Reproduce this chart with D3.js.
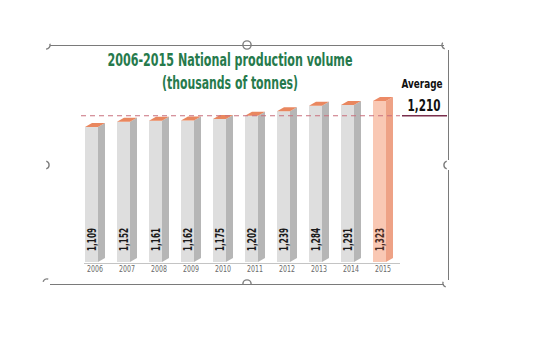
<!DOCTYPE html>
<html>
<head>
<meta charset="utf-8">
<script src="https://cdn.jsdelivr.net/npm/d3@7"></script>
<style>
    html, body { margin: 0; padding: 0; background: #fff; }
    svg { display: block; }
</style>
</head>
<body>
<div id="chart"></div>
<script>
// production volume, thousands of tonnes
var years = ["2006", "2007", "2008", "2009", "2010", "2011", "2012", "2013", "2014", "2015"];
var volumes = [1109, 1152, 1161, 1162, 1175, 1202, 1239, 1284, 1291, 1323];
var average = 1210;
var titleLines = ["2006-2015 National production volume", "(thousands of tonnes)"];

var W = 546, H = 349;
var font = "'Liberation Sans Narrow', 'DejaVu Sans Condensed', 'DejaVu Sans', sans-serif";
var depthX = 7, depthY = -4;
var baseY = 262;
var fmt = d3.format(",");

var svg = d3.select("#chart").append("svg")
    .attr("xmlns", "http://www.w3.org/2000/svg")
    .attr("width", W).attr("height", H);

// squeeze text to a set width, the condensed face is wider than the one used in print
function fitText(sel, w) {
    sel.attr("textLength", w).attr("lengthAdjust", "spacingAndGlyphs");
}

//比例尺
var xScale = d3.scaleBand().domain(years)
    .range([79, 399]).paddingInner(0.375).paddingOuter(0.1875);
var yScale = d3.scaleLinear().domain([0, 1323]).range([baseY, 101]);
var frontW = xScale.bandwidth() - depthX;

// selection frame with handles
var frame = svg.append("g").attr("class", "frame")
    .attr("stroke", "#7a7a7a").attr("fill", "none").attr("stroke-width", 1);
frame.append("line").attr("x1", 50).attr("x2", 444).attr("y1", 45.5).attr("y2", 45.5);
frame.append("line").attr("x1", 50).attr("x2", 444).attr("y1", 284.5).attr("y2", 284.5);
frame.append("line").attr("x1", 448.5).attr("x2", 448.5).attr("y1", 50).attr("y2", 160);
frame.append("line").attr("x1", 448.5).attr("x2", 448.5).attr("y1", 170).attr("y2", 280);

var arc = d3.arc().innerRadius(3.4).outerRadius(4.8);
var handles = [
    {x: 46, y: 45, a0: 0.2, a1: 0.5},
    {x: 247, y: 45, a0: 0, a1: 1},
    {x: 446, y: 45, a0: 0.55, a1: 0.85},
    {x: 45, y: 165, a0: 0.05, a1: 0.45},
    {x: 448, y: 165, a0: 0.55, a1: 0.95},
    {x: 47, y: 283, a0: 0.8, a1: 1.05},
    {x: 247, y: 284, a0: -0.25, a1: 0.25},
    {x: 447, y: 283, a0: 0.55, a1: 0.8}
];
svg.append("g").attr("class", "handles")
    .selectAll("path")
    .data(handles)
    .enter()
    .append("path")
    .attr("transform", d => "translate(" + d.x + "," + d.y + ")")
    .attr("fill", "#7e7e7e")
    .attr("d", d => arc({startAngle: d.a0 * 2 * Math.PI, endAngle: d.a1 * 2 * Math.PI}));

// title
var titleWidths = [245, 136];
svg.append("g").attr("class", "title")
    .selectAll("text")
    .data(titleLines)
    .enter()
    .append("text")
    .attr("x", 230)
    .attr("y", (d, i) => 66 + i * 23)
    .attr("text-anchor", "middle")
    .style("font-family", font)
    .style("font-weight", "bold")
    .style("font-size", "17px")
    .attr("fill", "#267a4c")
    .attr("textLength", (d, i) => titleWidths[i])
    .attr("lengthAdjust", "spacingAndGlyphs")
    .text(d => d);

// axis line
svg.append("line")
    .attr("x1", 84).attr("x2", 400)
    .attr("y1", baseY + 1.5).attr("y2", baseY + 1.5)
    .attr("stroke", "#c4c4c4").attr("stroke-width", 1);

//画柱子
var bars = svg.append("g").attr("class", "bars")
    .selectAll("g")
    .data(years.map((y, i) => ({year: y, value: volumes[i], last: i === years.length - 1})))
    .enter()
    .append("g");

function poly(pts) {
    return "M" + pts.map(p => p.join(",")).join("L") + "Z";
}

// side face
bars.append("path")
    .attr("fill", d => d.last ? "#eea286" : "#b6b6b6")
    .attr("d", function(d) {
        var x1 = xScale(d.year) + frontW, top = yScale(d.value);
        return poly([[x1, top], [x1 + depthX, top + depthY], [x1 + depthX, baseY + depthY], [x1, baseY]]);
    });
// front face
bars.append("rect")
    .attr("x", d => xScale(d.year))
    .attr("y", d => yScale(d.value))
    .attr("width", frontW)
    .attr("height", d => baseY - yScale(d.value))
    .attr("fill", d => d.last ? "#f9c8b4" : "#dedede");
// top face
bars.append("path")
    .attr("fill", d => d.last ? "#ec8a66" : "#e9875f")
    .attr("d", function(d) {
        var x0 = xScale(d.year), top = yScale(d.value);
        return poly([[x0, top], [x0 + frontW, top], [x0 + frontW + depthX, top + depthY], [x0 + depthX, top + depthY]]);
    });

// value labels, vertical
bars.append("text")
    .attr("transform", d => "translate(" + (xScale(d.year) + frontW / 2 + 4.5) + "," + (baseY - 11) + ") rotate(-90)")
    .attr("text-anchor", "start")
    .style("font-family", font)
    .style("font-weight", "bold")
    .style("font-size", "12px")
    .attr("fill", d => d.last ? "#4a2c24" : "#1a1a1a")
    .call(fitText, 23)
    .text(d => fmt(d.value));

// year labels
bars.append("text")
    .attr("x", d => xScale(d.year) + xScale.bandwidth() / 2)
    .attr("y", 272)
    .attr("text-anchor", "middle")
    .style("font-family", font)
    .style("font-size", "9px")
    .attr("fill", "#6a6a6a")
    .call(fitText, 16)
    .text(d => d.year);

// average line
var avgY = yScale(average) + 1;
svg.append("line")
    .attr("x1", 81).attr("x2", 400)
    .attr("y1", avgY).attr("y2", avgY)
    .attr("stroke", "#c9707e").attr("stroke-width", 1.2)
    .attr("stroke-dasharray", "5,4");
svg.append("line")
    .attr("x1", 402).attr("x2", 447)
    .attr("y1", avgY).attr("y2", avgY)
    .attr("stroke", "#7a2e4c").attr("stroke-width", 1.6);
svg.append("text")
    .attr("x", 422).attr("y", 88)
    .attr("text-anchor", "middle")
    .style("font-family", font)
    .style("font-weight", "bold")
    .style("font-size", "13px")
    .attr("fill", "#111")
    .call(fitText, 41)
    .text("Average");
svg.append("text")
    .attr("x", 424).attr("y", 111)
    .attr("text-anchor", "middle")
    .style("font-family", font)
    .style("font-weight", "bold")
    .style("font-size", "15.5px")
    .attr("fill", "#111")
    .call(fitText, 33)
    .text(fmt(average));
</script>
</body>
</html>
